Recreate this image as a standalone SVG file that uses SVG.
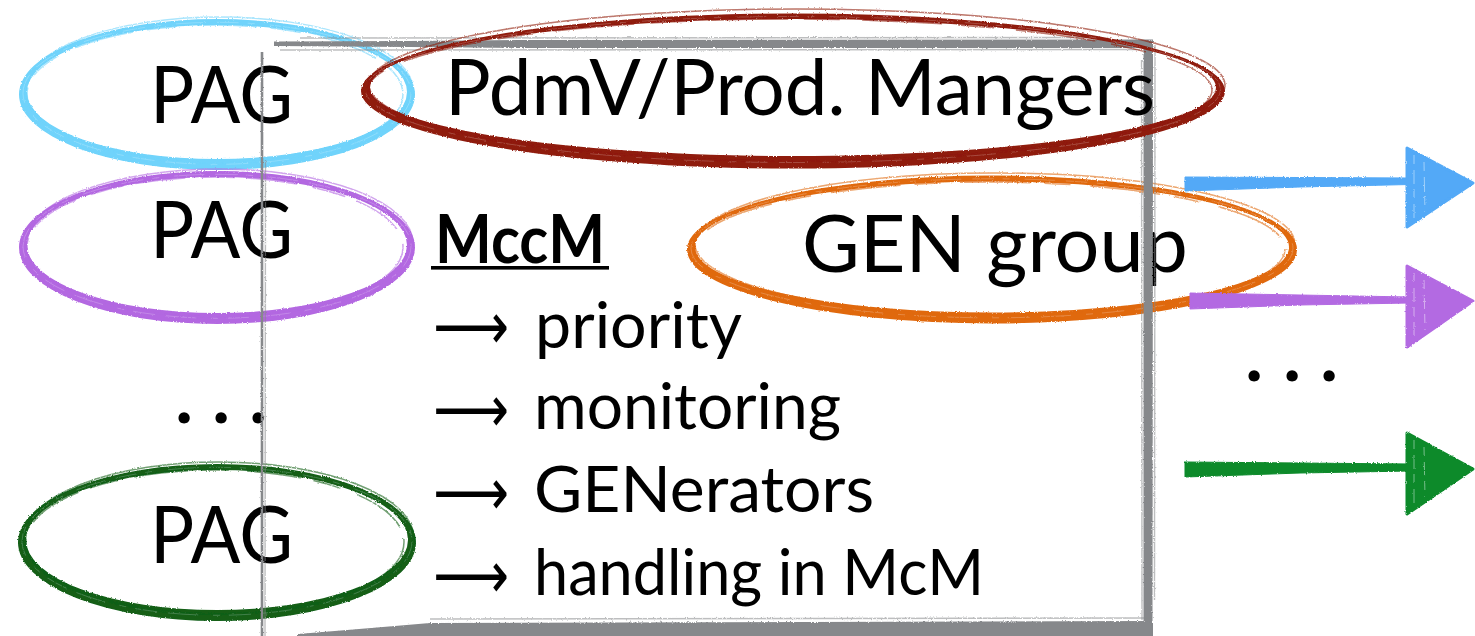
<svg xmlns="http://www.w3.org/2000/svg" width="1475" height="636" viewBox="0 0 1475 636">
  <style>
    .label { font-family: Lato, "Liberation Sans", "DejaVu Sans", sans-serif; fill: #000; }
    .big { font-size: 80px; }
    .item { font-size: 63px; }
    .arrowglyph { font-family: "DejaVu Sans", "Liberation Sans", sans-serif; font-size: 66px; fill: #000; }
    .ring { fill: currentColor; fill-rule: evenodd; }
    .streak { fill: none; stroke: currentColor; stroke-width: 1.5; opacity: .6; }
    .chalk { fill: none; stroke: #fff; stroke-width: 0.7; opacity: .3; stroke-dasharray: 22 9 7 15 30 11; }
    .frame-fill { fill: #86888b; }
    .frame-streak { fill: none; stroke: #86888b; stroke-width: 1.4; opacity: .55; }
    .head-chalk { fill: none; stroke: #fff; stroke-width: 1; opacity: .45; stroke-dasharray: 9 6 14 5; }
    .dots { font-family: Lato, "Liberation Sans", sans-serif; font-size: 90px; fill: #000; }
  </style>
  <defs>
    <!-- slight brush roughness for hand-drawn strokes -->
    <filter id="rough" filterUnits="userSpaceOnUse" x="0" y="0" width="1475" height="636">
      <feTurbulence type="fractalNoise" baseFrequency="0.8" numOctaves="2" seed="3" result="noise"/>
      <feDisplacementMap in="SourceGraphic" in2="noise" scale="2.5" xChannelSelector="R" yChannelSelector="G"/>
    </filter>
  </defs>

  <rect width="1475" height="636" fill="#fff"/>

  <!-- PAG 1 (cyan) -->
  <g id="pag-1">
    <g color="#6fd3fb" filter="url(#rough)">
      <path class="ring" d="M19,94.5 a198,75.5 0 1,0 396,0 a198,75.5 0 1,0 -396,0 Z M27,92 a190,67 0 1,0 380,0 a190,67 0 1,0 -380,0 Z"/>
      <ellipse class="streak" cx="219" cy="90" rx="194" ry="73"/>
      <ellipse class="streak" cx="215" cy="94" rx="188" ry="69" stroke-dasharray="60 14 30 20"/>
      <ellipse class="chalk" cx="217" cy="93.3" rx="194" ry="71"/>
    </g>
    <text class="label big" x="150" y="123" textLength="143" lengthAdjust="spacingAndGlyphs">PAG</text>
  </g>

  <!-- PAG 2 (purple) -->
  <g id="pag-2">
    <g color="#b368e1" filter="url(#rough)">
      <path class="ring" d="M19,247.5 a198,76.5 0 1,0 396,0 a198,76.5 0 1,0 -396,0 Z M27,245 a190,68 0 1,0 380,0 a190,68 0 1,0 -380,0 Z"/>
      <ellipse class="streak" cx="219" cy="243" rx="194" ry="74"/>
      <ellipse class="streak" cx="215" cy="247" rx="188" ry="70" stroke-dasharray="50 16 34 12"/>
      <ellipse class="chalk" cx="217" cy="246.3" rx="194" ry="72"/>
    </g>
    <text class="label big" x="150" y="258" textLength="143" lengthAdjust="spacingAndGlyphs">PAG</text>
  </g>

  <!-- vertical ellipsis between the PAG rows -->
  <text class="dots" x="173.5 210.5 247.5" y="423">...</text>

  <!-- PAG 3 (green) -->
  <g id="pag-3">
    <g color="#125f19" filter="url(#rough)">
      <path class="ring" d="M18,542.5 a199,78.5 0 1,0 398,0 a199,78.5 0 1,0 -398,0 Z M26,540 a191,70 0 1,0 382,0 a191,70 0 1,0 -382,0 Z"/>
      <ellipse class="streak" cx="219" cy="538" rx="195" ry="76"/>
      <ellipse class="streak" cx="215" cy="542" rx="189" ry="72" stroke-dasharray="55 12 28 18"/>
      <ellipse class="chalk" cx="217" cy="541.3" rx="195" ry="74"/>
    </g>
    <text class="label big" x="150" y="563" textLength="143" lengthAdjust="spacingAndGlyphs">PAG</text>
  </g>

  <!-- GEN group (orange) -->
  <g id="gen-group">
    <g color="#e0690f" filter="url(#rough)">
      <path class="ring" d="M687,249.5 a305,74 0 1,0 610,0 a305,74 0 1,0 -610,0 Z M695,247 a297,65.5 0 1,0 594,0 a297,65.5 0 1,0 -594,0 Z"/>
      <ellipse class="streak" cx="995" cy="244" rx="300" ry="71"/>
      <ellipse class="streak" cx="990" cy="249" rx="295" ry="67" stroke-dasharray="70 14 26 20"/>
      <ellipse class="chalk" cx="992" cy="248.3" rx="301" ry="69.5"/>
    </g>
    <text class="label big" x="802" y="272" textLength="386" lengthAdjust="spacingAndGlyphs">GEN group</text>
  </g>

  <!-- MccM box with its task list -->
  <g id="mccm">
    <g filter="url(#rough)">
      <!-- top edge -->
      <path class="frame-fill" d="M274,41.5 Q420,41 520,40 L1153,39.5 L1153,48 L520,48 Q420,47 274,46 Z"/>
      <path class="frame-streak" d="M300,38 L1100,37.5"/>
      <path class="frame-streak" d="M280,50 L1140,49.5"/>
      <!-- right edge -->
      <path class="frame-fill" d="M1143.5,40 L1153,40 L1152.5,632 L1143.5,632 Z"/>
      <path class="frame-streak" d="M1141.5,60 L1142,620"/>
      <path class="frame-streak" d="M1155,45 L1154.5,600"/>
      <!-- left edge -->
      <path fill="none" stroke="#86888b" stroke-width="2.6" d="M262,52 L262,640"/>
      <path class="frame-streak" d="M265.5,160 L265,640"/>
      <!-- bottom edge -->
      <path class="frame-fill" d="M298,634 Q360,629 430,623 L1153,621 L1153,640 L298,640 Z"/>
      <path class="frame-streak" d="M430,619 L1150,618"/>
    </g>
    <text class="label" x="435" y="263" font-size="67" font-weight="bold" textLength="170" lengthAdjust="spacingAndGlyphs">MccM</text>
    <rect x="431" y="266" width="178" height="3.6" fill="#000"/>

    <text class="arrowglyph" x="433" y="349" textLength="76" lengthAdjust="spacingAndGlyphs">⟶</text>
    <text class="label item" x="535" y="348" textLength="207" lengthAdjust="spacingAndGlyphs">priority</text>

    <text class="arrowglyph" x="433" y="432" textLength="76" lengthAdjust="spacingAndGlyphs">⟶</text>
    <text class="label item" x="534" y="429" textLength="307" lengthAdjust="spacingAndGlyphs">monitoring</text>

    <text class="arrowglyph" x="433" y="515" textLength="76" lengthAdjust="spacingAndGlyphs">⟶</text>
    <text class="label item" x="534" y="512" textLength="340" lengthAdjust="spacingAndGlyphs">GENerators</text>

    <text class="arrowglyph" x="433" y="598" textLength="76" lengthAdjust="spacingAndGlyphs">⟶</text>
    <text class="label item" x="534" y="595" textLength="450" lengthAdjust="spacingAndGlyphs">handling in McM</text>
  </g>

  <!-- PdmV / production managers (dark red) -->
  <g id="pdmv">
    <g color="#8f1a0c" filter="url(#rough)">
      <path class="ring" d="M361,91 a432,77.5 0 1,0 864,0 a432,77.5 0 1,0 -864,0 Z M370,87.5 a423,68.5 0 1,0 846,0 a423,68.5 0 1,0 -846,0 Z"/>
      <ellipse class="streak" cx="797" cy="85" rx="428" ry="76"/>
      <ellipse class="streak" cx="790" cy="90" rx="422" ry="71" stroke-dasharray="80 16 36 22"/>
      <ellipse class="chalk" cx="793" cy="89.5" rx="427.5" ry="73"/>
    </g>
    <text class="label" x="445" y="115" font-size="77" textLength="710" lengthAdjust="spacingAndGlyphs">PdmV/Prod. Mangers</text>
  </g>

  <!-- outgoing request flows -->
  <g id="connectors" filter="url(#rough)" stroke-linejoin="round">
    <g fill="#52a9f7" stroke="#52a9f7">
      <path stroke-width="1" d="M1185,177 L1300,177.5 L1410,178 L1410,184.5 L1300,187 L1185,191 Z"/>
      <path stroke-width="3" d="M1407,148 L1473,183 L1407,227 Z"/>
      <path class="head-chalk" d="M1414,155 L1414,220 M1424,162 L1425,212"/>
    </g>
    <g fill="#b36be2" stroke="#b36be2">
      <path stroke-width="1" d="M1190,293 L1300,295 L1410,297 L1410,303 L1300,305 L1190,309 Z"/>
      <path stroke-width="3" d="M1407,266 L1473,301 L1407,347 Z"/>
      <path class="head-chalk" d="M1414,273 L1414,340 M1424,280 L1425,330"/>
    </g>
    <g fill="#0b8a2b" stroke="#0b8a2b">
      <path stroke-width="1" d="M1185,462 L1300,463 L1410,464 L1410,471 L1300,473 L1185,477 Z"/>
      <path stroke-width="3" d="M1407,433 L1473,469 L1407,514 Z"/>
      <path class="head-chalk" d="M1414,440 L1414,507 M1424,447 L1425,497"/>
    </g>
  </g>

  <!-- ellipsis between the outgoing flows -->
  <text class="dots" x="1243.5 1281.5 1318.5" y="381">...</text>
</svg>
